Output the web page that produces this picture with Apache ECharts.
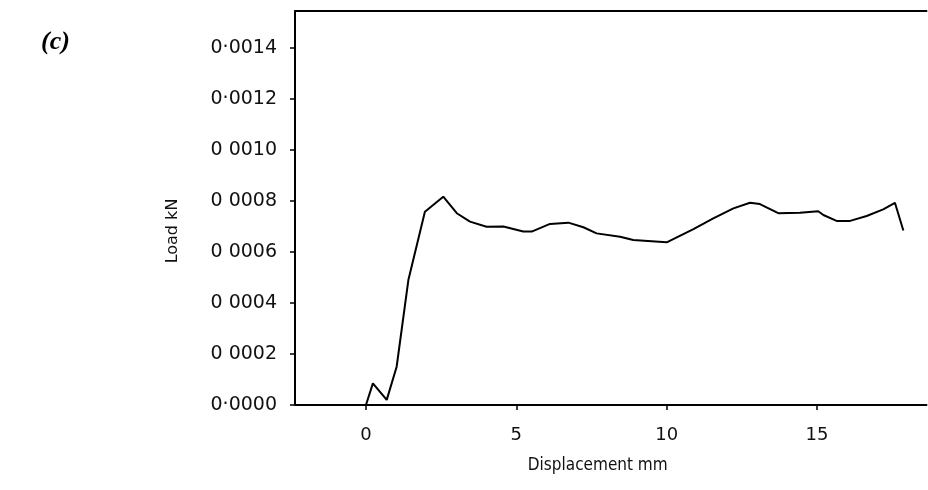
<!DOCTYPE html>
<html>
<head>
<meta charset="utf-8">
<script src="https://cdn.jsdelivr.net/npm/echarts@6/dist/echarts.min.js"></script>
<style>
  html, body { margin: 0; padding: 0; background: #fff; }
  #chart { width: 928px; height: 490px; }
</style>
</head>
<body>
<div id="chart"></div>
<script>
// displacement (mm) and load (kN)
var displacement = [0, 0.23, 0.69, 1.02, 1.41, 1.96, 2.57, 3.02, 3.46, 4.01, 4.57, 5.23, 5.51,
  6.12, 6.73, 7.23, 7.67, 8.45, 8.89, 9.5, 10.0, 10.89, 11.55, 12.22, 12.77, 13.1, 13.71,
  14.43, 15.04, 15.21, 15.65, 16.1, 16.65, 17.2, 17.59, 17.87]
var load = [0, 0.000085, 0.00002, 0.00015, 0.00049, 0.000758, 0.000817, 0.000752, 0.000719,
  0.000699, 0.0007, 0.00068, 0.00068, 0.00071, 0.000715, 0.000697, 0.000673, 0.00066,
  0.000647, 0.000642, 0.000638, 0.00069, 0.000732, 0.000771, 0.000793, 0.000788, 0.000752,
  0.000754, 0.00076, 0.000745, 0.000722, 0.000722, 0.000741, 0.000767, 0.000793, 0.000684]
var yTickLabels = ['0·0000', '0 0002', '0 0004', '0 0006', '0 0008', '0 0010', '0·0012', '0·0014']

var labelFont = 'DejaVu Sans'
var chart = echarts.init(document.getElementById('chart'))

chart.setOption({
  animation: false,
  title: {
    text: '(c)',
    left: 36,
    top: 24,
    textStyle: {
      fontFamily: 'Liberation Serif',
      fontStyle: 'italic',
      fontWeight: 'bold',
      fontSize: 26,
      color: '#000'
    }
  },
  grid: {
    left: 295,
    top: 11,
    right: 1.5,
    bottom: 85
  },
  xAxis: [
    {
      type: 'value',
      min: -2.36,
      max: 18.64,
      name: 'Displacement mm',
      nameLocation: 'middle',
      nameGap: 52,
      nameTextStyle: {
        fontFamily: '"DejaVu Sans Condensed", "DejaVu Sans"',
        fontSize: 17,
        color: '#111',
        padding: [0, 26, 0, 0]
      },
      axisLine: { onZero: false, lineStyle: { color: '#000', width: 2 } },
      axisTick: { show: true, length: 5, lineStyle: { color: '#000', width: 1.5 } },
      axisLabel: {
        showMinLabel: false,
        showMaxLabel: false,
        margin: 21,
        fontFamily: labelFont,
        fontSize: 18,
        color: '#111'
      },
      splitLine: { show: false }
    },
    {
      type: 'value',
      position: 'top',
      min: -2.36,
      max: 18.64,
      axisLine: { show: true, onZero: false, lineStyle: { color: '#000', width: 2 } },
      axisTick: { show: false },
      axisLabel: { show: false },
      splitLine: { show: false }
    }
  ],
  yAxis: {
    type: 'value',
    min: 0,
    max: 0.001545,
    interval: 0.0002,
    name: 'Load kN',
    nameLocation: 'middle',
    nameGap: 114,
    nameTextStyle: { fontFamily: labelFont, fontSize: 16, color: '#111', padding: [0, 46, 0, 0] },
    axisLine: { show: true, onZero: false, lineStyle: { color: '#000', width: 2 } },
    axisTick: { show: true, length: 5, lineStyle: { color: '#000', width: 1.5 } },
    axisLabel: {
      showMaxLabel: false,
      margin: 18,
      fontFamily: labelFont,
      fontSize: 19,
      color: '#111',
      formatter: function (v) {
        var i = Math.round(v / 0.0002)
        return yTickLabels[i] || ''
      }
    },
    splitLine: { show: false }
  },
  series: [
    {
      type: 'line',
      xAxisIndex: 0,
      data: displacement.map(function (d, i) { return [d, load[i]] }),
      showSymbol: false,
      lineStyle: { color: '#000', width: 2 }
    }
  ]
})
</script>
</body>
</html>
